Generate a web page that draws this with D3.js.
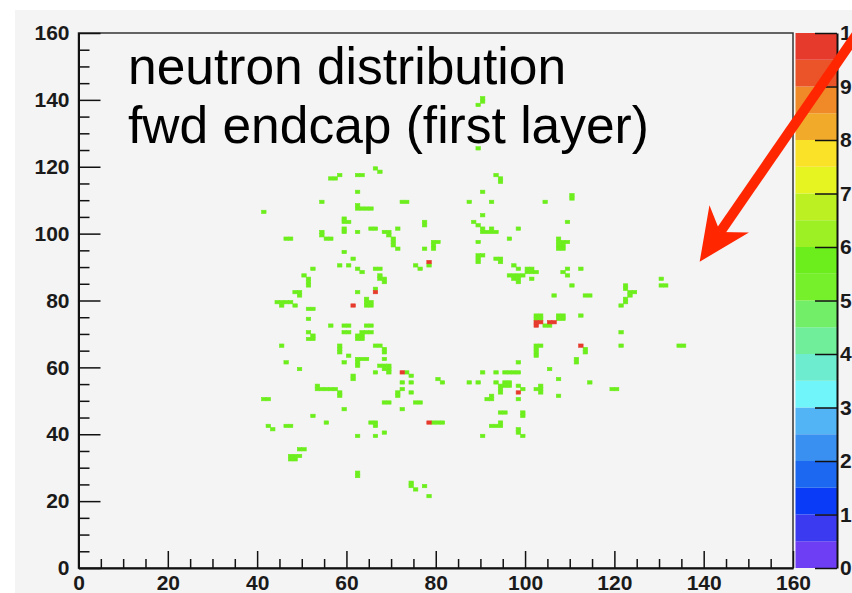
<!DOCTYPE html>
<html lang="en">
<head>
<meta charset="UTF-8">
<title>neutron distribution fwd endcap</title>
<script src="https://d3js.org/d3.v7.min.js"></script>
<style>
  body { margin: 0; background: #fff; }
  svg { display: block; font-family: "Liberation Sans", Arial, Helvetica, sans-serif; }
  .tick text { font-size: 21px; font-weight: bold; fill: #1a1a1a; }
  .title { font-size: 51.5px; fill: #000; }
</style>
</head>
<body>
<div id="chart"></div>
<script>
// axis ticks
const xMajor = [0, 20, 40, 60, 80, 100, 120, 140, 160];
const yMajor = [0, 20, 40, 60, 80, 100, 120, 140, 160];
const zTicks = [0, 1, 2, 3, 4, 5, 6, 7, 8, 9, 10];

// colour palette of the z axis, 20 bands from 0 to 10 (bottom to top)
const palette = [
  "#6e3ef5", "#3c3af0", "#0a3cf8", "#1c68f0", "#3a90f0",
  "#52b4f4", "#70f6fa", "#6eecd0", "#70ee9a", "#72ee68",
  "#76f02a", "#6cee1c", "#9cf024", "#bcf022", "#e6f522",
  "#fae228", "#f2aa2a", "#f08a28", "#ea5428", "#e63a2c"
];

const greenZ = 5.7;
const redZ = 10;

// filled bins [x, y] (bin width 1 x 1)
const greenCells = [
  [66,119],[67,118],[56,116],[57,116],[58,117],[62,117],[63,117],[62,112],[54,109],
  [72,109],[73,109],[62,108],[62,107],[63,107],[64,107],[65,107],[41,106],
  [59,104],[59,103],[60,103],[59,101],[59,100],[62,100],[65,101],[66,101],
  [46,98],[47,98],[54,100],[54,99],[55,98],[56,98],
  [68,100],[69,100],[69,99],[71,101],[70,98],[70,97],[70,96],[71,95],
  [77,103],[77,102],[79,97],[80,97],[79,96],[77,95],[79,95],[78,90],
  [75,90],[76,89],[59,94],[61,92],[58,90],[60,90],[62,89],[63,88],
  [66,89],[67,89],[67,87],[67,86],[68,86],[68,85],
  [52,89],[50,87],[51,86],[51,85],[51,84],
  [48,82],[49,82],[49,81],[44,79],[45,79],[46,79],[47,79],[45,78],[48,78],
  [66,83],[62,82],[64,80],[64,79],[65,79],[64,78],[65,78],
  [51,77],[52,77],[51,74],[56,72],[59,72],[60,72],[64,72],[65,72],[51,70],
  [52,69],[51,68],[52,68],
  [59,70],[60,70],[63,70],[64,70],[65,70],[62,69],[63,69],[62,68],[63,68],
  [45,66],[58,66],[58,65],[58,64],[66,66],[67,66],[68,65],[68,64],[60,63],
  [62,62],[63,62],[64,62],[62,61],[62,60],[59,61],[46,61],[49,59],[61,57],[61,56],
  [68,62],[67,60],[68,60],[69,60],[68,59],[69,59],[69,58],[66,58],
  [73,58],[74,57],[72,55],[74,55],[72,53],[74,52],[71,52],[71,51],[80,56],
  [53,54],[53,53],[54,53],[55,53],[56,53],[57,53],[58,52],[58,51],
  [41,50],[42,50],[59,47],[68,49],[69,49],[75,49],[76,49],[72,47],
  [52,45],[55,43],[65,43],[66,43],[66,42],[68,40],[79,43],[80,43],
  [42,42],[43,41],[46,42],[47,42],[62,39],[66,39],
  [49,35],[50,35],[47,33],[48,33],[49,33],[47,32],[48,32],
  [62,28],[62,27],[74,25],[74,24],[75,23],[77,24],[78,21],
  [93,117],[94,116],[94,115],[90,112],[87,109],[92,109],[104,109],[110,111],[110,110],
  [90,105],[88,103],[89,102],[90,101],[92,101],[90,100],[91,100],[92,100],[93,100],
  [98,101],[96,98],[109,103],
  [107,98],[107,97],[108,97],[109,97],[107,96],[108,96],[107,95],[108,95],
  [89,97],[89,93],[89,92],[89,91],[90,93],[93,92],[94,92],[94,91],[97,90],[98,89],
  [100,89],[101,89],[100,88],[101,88],[102,88],
  [96,87],[97,87],[98,87],[99,87],[97,86],[98,86],[98,85],[101,86],
  [108,88],[109,89],[109,87],[112,89],[110,84],[106,81],[113,81],[114,81],[112,75],
  [102,74],[103,74],[102,75],[103,75],[104,72],[105,72],
  [107,74],[108,74],[107,75],[108,75],[121,70],
  [122,84],[122,83],[123,82],[124,82],[123,81],[122,80],[122,79],[121,78],
  [130,86],[130,84],[131,84],
  [121,66],[134,66],[135,66],[102,66],[103,66],[102,65],[102,64],[102,63],
  [113,65],[113,64],[111,62],[111,61],[98,61],[105,59],
  [90,58],[93,58],[95,58],[96,58],[97,58],[98,58],
  [87,55],[89,55],[93,55],[81,55],[95,55],[96,55],[95,54],[96,54],[94,54],[94,53],[94,52],
  [92,51],[91,50],[92,50],[98,54],[99,53],[98,50],
  [103,54],[103,53],[103,52],[102,53],[107,56],[107,51],[114,55],[119,53],[120,53],
  [99,46],[99,45],[94,46],[95,46],[81,43],[94,43],[92,42],[93,42],[94,42],
  [90,39],[98,41],[98,40],[99,39],
  [89,138],[90,139],[90,140],[89,125]
];
const redCells = [
  [78,91],[61,78],[66,82],[72,58],[78,43],
  [102,73],[103,73],[102,72],[105,73],[106,73],[112,66],[98,52]
];

// annotation text and arrow (data units)
const titleLines = ["neutron distribution", "fwd endcap (first layer)"];
const arrowTip = [139.1, 91.6];
const arrowTail = [176, 163];

const W = 852, H = 593;
const svg = d3.select("#chart").append("svg").attr("width", W).attr("height", H);

svg.append("rect").attr("width", W).attr("height", H).attr("fill", "#fff");
svg.append("rect").attr("x", 15).attr("y", 10).attr("width", W - 15).attr("height", H - 10)
  .attr("fill", "#f4f4f4");

const x = d3.scaleLinear().domain([0, 160]).range([78.5, 793]);
const y = d3.scaleLinear().domain([0, 160]).range([568, 33]);
const z = d3.scaleLinear().domain([0, 10]).range([568, 33]);
const color = d3.scaleQuantize().domain([0, 10]).range(palette);

// cells
const cells = greenCells.map(d => [d[0], d[1], greenZ]).concat(redCells.map(d => [d[0], d[1], redZ]));
svg.append("g").selectAll("rect").data(cells).join("rect")
  .attr("x", d => x(d[0]))
  .attr("y", d => y(d[1] + 1))
  .attr("width", d => x(d[0] + 1) - x(d[0]))
  .attr("height", d => y(d[1]) - y(d[1] + 1))
  .attr("fill", d => color(d[2]))
  .attr("stroke", d => color(d[2]))
  .attr("stroke-width", 0.6);

// frame
svg.append("rect").attr("x", x(0)).attr("y", y(160))
  .attr("width", x(160) - x(0)).attr("height", y(0) - y(160))
  .attr("fill", "none").attr("stroke", "#333").attr("stroke-width", 1.5);

// x axis
const xMinor = d3.range(0, 161, 5).filter(v => v % 20 !== 0);
const yMinor = xMinor;
svg.append("g").attr("transform", `translate(0,${y(0)})`)
  .call(d3.axisBottom(x).tickValues(xMinor).tickSize(-9).tickSizeOuter(0).tickFormat(""))
  .call(g => g.select(".domain").remove());
svg.append("g").attr("transform", `translate(0,${y(0)})`)
  .call(d3.axisBottom(x).tickValues(xMajor).tickSize(-17).tickSizeOuter(0).tickPadding(7));

// y axis
svg.append("g").attr("transform", `translate(${x(0)},0)`)
  .call(d3.axisLeft(y).tickValues(yMinor).tickSize(-11).tickSizeOuter(0).tickFormat(""))
  .call(g => g.select(".domain").remove());
svg.append("g").attr("transform", `translate(${x(0)},0)`)
  .call(d3.axisLeft(y).tickValues(yMajor).tickSize(-22).tickSizeOuter(0).tickPadding(9));

svg.selectAll(".domain").attr("stroke", "#111").attr("stroke-width", 2);
svg.selectAll(".tick line").attr("stroke", "#111").attr("stroke-width", 1.5);

// colour bar
const bands = palette.map((c, i) => ({ lo: i * 0.5, hi: (i + 1) * 0.5, c }));
svg.append("g").selectAll("rect").data(bands).join("rect")
  .attr("x", 795.5).attr("width", 41.5)
  .attr("y", d => z(d.hi)).attr("height", d => z(d.lo) - z(d.hi))
  .attr("fill", d => d.c);
svg.append("g").attr("transform", "translate(837,0)")
  .call(d3.axisRight(z).tickValues(zTicks).tickSize(-22).tickSizeOuter(0).tickPadding(3))
  .call(g => g.select(".domain").attr("stroke", "#111").attr("stroke-width", 2))
  .call(g => g.selectAll(".tick line").attr("stroke", "#111").attr("stroke-width", 1.5));

// title text
svg.append("g").selectAll("text").data(titleLines).join("text")
  .attr("class", "title")
  .attr("x", 128)
  .attr("y", (d, i) => 84 + i * 59)
  .text(d => d);

// arrow
const tip = [x(arrowTip[0]), y(arrowTip[1])];
const tail = [x(arrowTail[0]), y(arrowTail[1])];
const len = Math.hypot(tail[0] - tip[0], tail[1] - tip[1]);
const u = [(tail[0] - tip[0]) / len, (tail[1] - tip[1]) / len];
const n = [u[1] * -1, u[0]];
const headLen = 52, headHalf = 24, notch = 36;
const notchPt = [tip[0] + u[0] * notch, tip[1] + u[1] * notch];
svg.append("line")
  .attr("x1", notchPt[0]).attr("y1", notchPt[1])
  .attr("x2", tail[0]).attr("y2", tail[1])
  .attr("stroke", "#ff2600").attr("stroke-width", 10);
const head = [
  tip,
  [tip[0] + u[0] * headLen + n[0] * headHalf, tip[1] + u[1] * headLen + n[1] * headHalf],
  notchPt,
  [tip[0] + u[0] * headLen - n[0] * headHalf, tip[1] + u[1] * headLen - n[1] * headHalf]
];
svg.append("path").attr("d", d3.line()(head) + "Z").attr("fill", "#ff2600");
</script>
</body>
</html>
